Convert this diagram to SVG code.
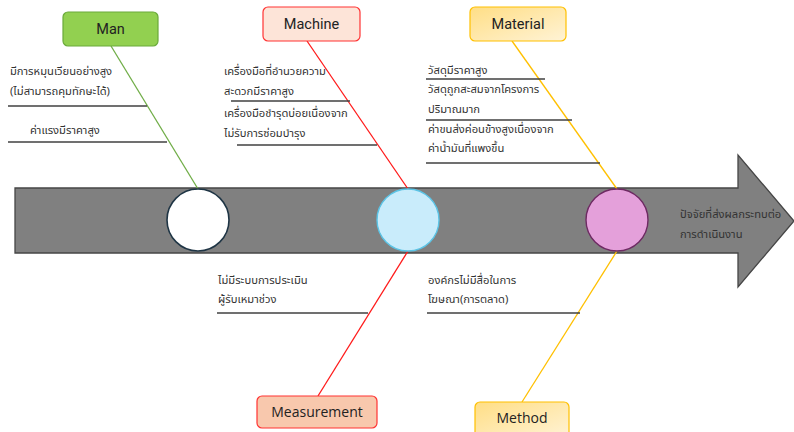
<svg xmlns="http://www.w3.org/2000/svg" width="794" height="432" viewBox="0 0 794 432">
<defs>
<linearGradient id="gy" x1="0" y1="0" x2="1" y2="1">
<stop offset="0" stop-color="#ffde85"/>
<stop offset="1" stop-color="#fff3d6"/>
</linearGradient>
<style>
.t{font-family:"Noto Sans Thai","Noto Sans","Liberation Sans","DejaVu Sans",sans-serif;font-size:11.2px;fill:#333}
.lab{font-family:Roboto,"Liberation Sans",sans-serif;font-size:14.5px;fill:#222;text-anchor:middle}
.lab2{font-family:"Open Sans","Liberation Sans",sans-serif;font-size:14px;fill:#222;text-anchor:middle}
.rule{stroke:#404040;stroke-width:1.6;fill:none}
</style>
</defs>
<rect width="794" height="432" fill="#fff"/>
<g id="spine">
<polygon points="15,188 738,188 738,155 794,221 738,287 738,253 15,253" fill="#808080" stroke="#454545" stroke-width="1.3"/>
<text class="t" x="680" y="218" fill="#222">ปัจจัยที่ส่งผลกระทบต่อ</text>
<text class="t" x="680" y="238" fill="#222">การดำเนินงาน</text>
</g>
<g id="connectors" fill="none" stroke-width="1.3">
<line x1="111" y1="46" x2="198" y2="189" stroke="#70ad47"/>
<line x1="307" y1="41" x2="408" y2="189" stroke="#ff1a1a"/>
<line x1="408" y1="251" x2="318" y2="396" stroke="#ff1a1a"/>
<line x1="512" y1="41" x2="617" y2="189" stroke="#ffc000"/>
<line x1="617" y1="251" x2="522" y2="402" stroke="#ffc000"/>
</g>
<g id="circle-man"><circle cx="198" cy="220" r="31" fill="#fff" stroke="#1f3545" stroke-width="1.6"/></g>
<g id="circle-machine"><circle cx="408" cy="220" r="31" fill="#c9ecfb" stroke="#5bc4e6" stroke-width="1.4"/></g>
<g id="circle-material"><circle cx="617" cy="220" r="31" fill="#e4a0da" stroke="#6e2a63" stroke-width="1.4"/></g>
<g id="man">
<rect x="63" y="12" width="95" height="34" rx="5" fill="#92d050" stroke="#6aaa3a" stroke-width="1.2"/>
<text class="lab" x="110.5" y="34">Man</text>
<text class="t" x="10" y="75">มีการหมุนเวียนอย่างสูง</text>
<text class="t" x="10" y="95">(ไม่สามารถคุมทักษะได้)</text>
<line class="rule" x1="8" y1="106" x2="147" y2="106"/>
<text class="t" x="30" y="134">ค่าแรงมีราคาสูง</text>
<line class="rule" x1="8" y1="142" x2="167" y2="142"/>
</g>
<g id="machine">
<rect x="263" y="7" width="97" height="34" rx="5" fill="#fde4d8" stroke="#ff3333" stroke-width="1.2"/>
<text class="lab" x="311.5" y="29">Machine</text>
<text class="t" x="224" y="75">เครื่องมือที่อำนวยความ</text>
<text class="t" x="224" y="95">สะดวกมีราคาสูง</text>
<line class="rule" x1="231" y1="101" x2="350" y2="101"/>
<text class="t" x="224" y="117">เครื่องมือชำรุดบ่อยเนื่องจาก</text>
<text class="t" x="224" y="137">ไม่รับการซ่อมบำรุง</text>
<line class="rule" x1="237" y1="145" x2="377" y2="145"/>
</g>
<g id="material">
<rect x="470" y="7" width="96" height="34" rx="5" fill="url(#gy)" stroke="#ffc000" stroke-width="1.2"/>
<text class="lab" x="518" y="29">Material</text>
<text class="t" x="428" y="74">วัสดุมีราคาสูง</text>
<line class="rule" x1="426" y1="79" x2="545" y2="79"/>
<text class="t" x="428" y="93">วัสดุถูกสะสมจากโครงการ</text>
<text class="t" x="428" y="113">ปริมาณมาก</text>
<line class="rule" x1="426" y1="120" x2="572" y2="120"/>
<text class="t" x="428" y="133">ค่าขนส่งค่อนข้างสูงเนื่องจาก</text>
<text class="t" x="428" y="152">ค่าน้ำมันที่แพงขึ้น</text>
<line class="rule" x1="426" y1="163" x2="600" y2="163"/>
</g>
<g id="measurement">
<rect x="257" y="396" width="120" height="32" rx="5" fill="#f8c8ad" stroke="#ff3333" stroke-width="1.2"/>
<text class="lab2" x="317" y="417">Measurement</text>
<text class="t" x="218" y="284">ไม่มีระบบการประเมิน</text>
<text class="t" x="218" y="303">ผู้รับเหมาช่วง</text>
<line class="rule" x1="217" y1="313" x2="368" y2="313"/>
</g>
<g id="method">
<rect x="475" y="402" width="94" height="36" rx="5" fill="url(#gy)" stroke="#ffc000" stroke-width="1.2"/>
<text class="lab2" x="522" y="423">Method</text>
<text class="t" x="428" y="284">องค์กรไม่มีสื่อในการ</text>
<text class="t" x="428" y="303">โฆษณา(การตลาด)</text>
<line class="rule" x1="427" y1="313" x2="580" y2="313"/>
</g>
</svg>
